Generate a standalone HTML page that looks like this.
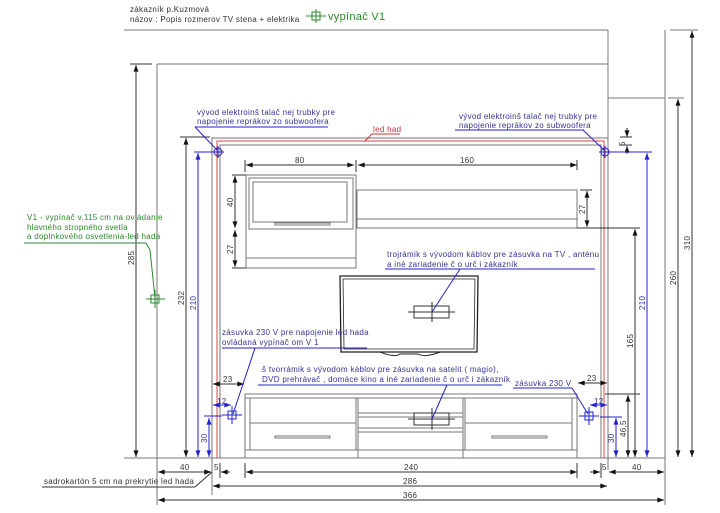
<!DOCTYPE html>
<html><head><meta charset="utf-8"><style>
html,body{margin:0;padding:0;background:#fff}
svg{display:block}
text{font-family:"Liberation Sans",sans-serif;font-size:8px;letter-spacing:0.3px}
.k{stroke:#333;stroke-width:1;fill:none}
.g{stroke:#777;stroke-width:1;fill:none}
.b{stroke:#2222cc;stroke-width:1;fill:none}
.bt{fill:#33339a}
.gr{fill:#2a8a2a}
</style></head><body>
<svg width="720" height="513" viewBox="0 0 720 513" xmlns="http://www.w3.org/2000/svg">
<defs>
<marker id="a" viewBox="0 0 8 6" refX="8" refY="3" markerWidth="7" markerHeight="5" orient="auto-start-reverse"><path d="M0,0L8,3L0,6z" fill="#111"/></marker>
<marker id="ab" viewBox="0 0 8 6" refX="8" refY="3" markerWidth="7" markerHeight="5" orient="auto-start-reverse"><path d="M0,0L8,3L0,6z" fill="#2222cc"/></marker>
</defs>
<text x="130" y="12" fill="#333">zákazník p.Kuzmová</text>
<text x="130" y="22" fill="#333">názov : Popis rozmerov TV stena + elektrika</text>
<line class="g" x1="124" y1="30" x2="608" y2="30"/>
<g stroke="#2a8a2a" fill="none"><rect x="312" y="12" width="8" height="8"/><line x1="306" y1="16" x2="326" y2="16"/><line x1="316" y1="9" x2="316" y2="23"/></g>
<text x="328" y="20" class="gr" style="font-size:11px">vypínač  V1</text>
<g class="g">
<line x1="157" y1="64" x2="608" y2="64"/>
<line x1="157" y1="64" x2="157" y2="505"/>
<line x1="608" y1="30" x2="608" y2="470"/>
<line x1="665" y1="30" x2="665" y2="505"/>
<line x1="608" y1="98" x2="665" y2="98"/>
<line x1="124" y1="458" x2="665" y2="458"/>
<line x1="670" y1="30" x2="698" y2="30"/>
<line x1="668" y1="98" x2="684" y2="98"/>
<polyline points="212,470 212,138 608,138"/>
<polyline points="220,458 220,145 601,145 601,458"/>
<line x1="212" y1="138" x2="212" y2="495"/>
</g>
<polyline points="217,458 217,141 604,141 604,458" fill="none" stroke="#d44" stroke-width="1"/>
<g class="g">
<rect x="246" y="175" width="110" height="93"/>
<rect x="249" y="178" width="104" height="51"/>
<rect x="253" y="182" width="94" height="40"/>
<rect x="275" y="223" width="55" height="2"/>
<line x1="246" y1="258" x2="356" y2="258"/>
<rect x="357" y="190" width="220" height="38"/>
<line x1="357" y1="219" x2="577" y2="219"/>
</g>
<g stroke="#222" fill="none" stroke-width="1.3">
<path d="M340,276 L478,276 L477,352 L341,352 Z"/>
<path d="M343,279 L475,279 L474,349 L344,349 Z" stroke-width="0.8"/>
<path d="M380,352 Q395,358 400,354 L418,354 Q425,358 440,352" stroke-width="1"/>
</g>
<g class="k"><rect x="414" y="306" width="35" height="12"/><line x1="408" y1="312" x2="455" y2="312"/><line x1="432" y1="302" x2="432" y2="322"/></g>
<g class="g">
<rect x="245" y="394" width="332" height="64"/>
<line x1="245" y1="398" x2="577" y2="398"/>
<rect x="250" y="398" width="106" height="52"/>
<line x1="250" y1="423" x2="356" y2="423"/>
<rect x="465" y="398" width="107" height="52"/>
<line x1="465" y1="423" x2="572" y2="423"/>
<line x1="358" y1="398" x2="358" y2="458"/><line x1="463" y1="398" x2="463" y2="458"/>
<line x1="358" y1="413" x2="463" y2="413"/><line x1="358" y1="417" x2="463" y2="417"/>
<line x1="358" y1="428" x2="463" y2="428"/><line x1="358" y1="432" x2="463" y2="432"/>
<line x1="245" y1="450" x2="577" y2="450"/>
<rect x="275" y="436" width="55" height="2"/><rect x="492" y="436" width="55" height="2"/>
</g>
<g class="k"><rect x="414" y="413" width="35" height="12"/><line x1="408" y1="419" x2="455" y2="419"/><line x1="432" y1="408" x2="432" y2="430"/></g>
<g stroke="#2222cc" fill="none">
<rect x="228" y="411" width="8" height="8"/><line x1="222" y1="415" x2="242" y2="415"/><line x1="232" y1="406" x2="232" y2="424"/>
<rect x="585" y="412" width="8" height="8"/><line x1="579" y1="416" x2="599" y2="416"/><line x1="589" y1="407" x2="589" y2="425"/>
<circle cx="218" cy="152" r="4"/><line x1="212" y1="152" x2="224" y2="152"/><line x1="218" y1="146" x2="218" y2="158"/>
<circle cx="605" cy="152" r="4"/><line x1="599" y1="152" x2="611" y2="152"/><line x1="605" y1="146" x2="605" y2="158"/>
</g>
<g stroke="#2a8a2a" fill="none"><rect x="151" y="295" width="8" height="8"/><line x1="146" y1="299" x2="165" y2="299"/><line x1="155" y1="290" x2="155" y2="308"/></g>
<g class="k" marker-start="url(#a)" marker-end="url(#a)">
<line x1="136" y1="65" x2="136" y2="457"/>
<line x1="186" y1="138" x2="186" y2="457"/>
<line x1="692" y1="31" x2="692" y2="457"/>
<line x1="678" y1="99" x2="678" y2="457"/>
<line x1="635" y1="229" x2="635" y2="457"/>
<line x1="628" y1="395" x2="628" y2="457"/>
<line x1="235" y1="176" x2="235" y2="228"/>
<line x1="235" y1="230" x2="235" y2="267"/>
<line x1="587" y1="191" x2="587" y2="227"/>
<line x1="246" y1="165" x2="354" y2="165"/>
<line x1="358" y1="165" x2="577" y2="165"/>
<line x1="158" y1="472" x2="211" y2="472"/>
<line x1="246" y1="472" x2="577" y2="472"/>
<line x1="609" y1="472" x2="664" y2="472"/>
<line x1="213" y1="486" x2="607" y2="486"/>
<line x1="158" y1="500" x2="664" y2="500"/>
<line x1="213" y1="384" x2="244" y2="384"/>
<line x1="578" y1="383" x2="607" y2="383"/>
</g>
<g class="k">
<line x1="627" y1="128" x2="627" y2="137" marker-end="url(#a)"/><line x1="627" y1="154" x2="627" y2="146" marker-end="url(#a)"/>
<line x1="620" y1="137" x2="632" y2="137"/><line x1="620" y1="145" x2="632" y2="145"/>
<line x1="200" y1="472" x2="211" y2="472" marker-end="url(#a)"/><line x1="230" y1="472" x2="221" y2="472" marker-end="url(#a)"/>
<line x1="590" y1="472" x2="600" y2="472" marker-end="url(#a)"/>
<line x1="130" y1="64" x2="152" y2="64"/><line x1="180" y1="137" x2="210" y2="137"/>
<line x1="232" y1="175" x2="246" y2="175"/><line x1="232" y1="268" x2="246" y2="268"/>
<line x1="580" y1="190" x2="592" y2="190"/><line x1="577" y1="228" x2="640" y2="228"/>
<line x1="605" y1="394" x2="640" y2="394"/>
<line x1="245" y1="160" x2="245" y2="172"/><line x1="356" y1="160" x2="356" y2="172"/><line x1="577" y1="160" x2="577" y2="170"/>
<line x1="245" y1="463" x2="245" y2="478"/><line x1="577" y1="463" x2="577" y2="478"/>
<line x1="220" y1="463" x2="220" y2="478"/><line x1="601" y1="463" x2="601" y2="478"/>
</g>
<g class="b" marker-start="url(#ab)" marker-end="url(#ab)">
<line x1="198" y1="153" x2="198" y2="457"/>
<line x1="647" y1="153" x2="647" y2="457"/>
<line x1="209" y1="418" x2="209" y2="457"/>
<line x1="616" y1="418" x2="616" y2="457"/>
<line x1="213" y1="405" x2="231" y2="405"/>
<line x1="590" y1="405" x2="607" y2="405"/>
</g>
<g class="b"><line x1="194" y1="152" x2="215" y2="152"/><line x1="610" y1="152" x2="652" y2="152"/>
<line x1="204" y1="416" x2="222" y2="416"/><line x1="600" y1="417" x2="622" y2="417"/></g>
<g fill="#333">
<text transform="translate(134,265) rotate(-90)">285</text>
<text transform="translate(184,305) rotate(-90)">232</text>
<text transform="translate(690,250) rotate(-90)">310</text>
<text transform="translate(676,285) rotate(-90)">260</text>
<text transform="translate(633,348) rotate(-90)">165</text>
<text transform="translate(626,437) rotate(-90)">46,5</text>
<text transform="translate(625,146) rotate(-90)">5</text>
<text transform="translate(233,207) rotate(-90)">40</text>
<text transform="translate(233,254) rotate(-90)">27</text>
<text transform="translate(585,214) rotate(-90)">27</text>
<text x="295" y="163">80</text><text x="460" y="163">160</text>
<text x="180" y="470">40</text><text x="214" y="470">5</text><text x="404" y="470">240</text>
<text x="602" y="470">5</text><text x="632" y="470">40</text>
<text x="403" y="484">286</text><text x="403" y="498">366</text>
<text x="223" y="382">23</text><text x="587" y="381">23</text>
</g>
<g class="bt">
<text transform="translate(196,310) rotate(-90)">210</text>
<text transform="translate(645,310) rotate(-90)">210</text>
<text transform="translate(207,443) rotate(-90)">30</text>
<text transform="translate(614,443) rotate(-90)">30</text>
<text x="217" y="404">12</text><text x="594" y="404">12</text>
</g>
<g class="bt">
<text x="197" y="115">vývod elektroinš talač nej trubky pre</text>
<text x="197" y="124">napojenie reprákov zo subwoofera</text>
<text x="459" y="119">vývod elektroinš talač nej trubky pre</text>
<text x="459" y="128">napojenie reprákov zo subwoofera</text>
<text x="387" y="257">trojrámik s vývodom káblov pre zásuvka na TV , anténu</text>
<text x="387" y="267">a iné zariadenie č o urč i zákazník</text>
<text x="222" y="335">zásuvka 230 V pre napojenie led hada</text>
<text x="222" y="345">ovládaná vypínač om V 1</text>
<text x="262" y="372">š tvorrámik s vývodom káblov pre zásuvka na satelit ( magio),</text>
<text x="262" y="382">DVD prehrávač  , domáce kino a iné zariadenie č o urč i zákazník</text>
<text x="515" y="386">zásuvka 230 V</text>
</g>
<g class="b">
<polyline points="195,127 328,127"/><line x1="195" y1="127" x2="217" y2="150"/>
<polyline points="455,130 584,130"/><line x1="583" y1="130" x2="604" y2="150"/>
<line x1="385" y1="269" x2="595" y2="269"/><line x1="460" y1="269" x2="432" y2="312"/>
<line x1="222" y1="348" x2="367" y2="348"/><line x1="255" y1="348" x2="233" y2="414"/>
<line x1="258" y1="385" x2="502" y2="385"/><line x1="447" y1="385" x2="432" y2="419"/>
<line x1="513" y1="388" x2="572" y2="388"/><line x1="572" y1="388" x2="588" y2="414"/>
</g>
<text x="373" y="132" fill="#c33">led had</text>
<g stroke="#c33" fill="none"><line x1="372" y1="134" x2="400" y2="134"/><line x1="372" y1="134" x2="365" y2="141"/></g>
<g class="gr">
<text x="27" y="220">V1 - vypínač  v.115 cm na ovládanie</text>
<text x="27" y="230">hlavného stropného svetla</text>
<text x="27" y="239">a doplnkového osvetlenia-led hada</text>
</g>
<g stroke="#2a8a2a" fill="none"><line x1="24" y1="243" x2="146" y2="243"/><polyline points="146,243 150,250 155,298"/></g>
<text x="44" y="484" fill="#333">sadrokartón 5 cm  na prekrytie led hada</text>
<g class="k"><line x1="42" y1="487" x2="195" y2="487"/><line x1="195" y1="487" x2="212" y2="472"/></g>
</svg>
</body></html>
